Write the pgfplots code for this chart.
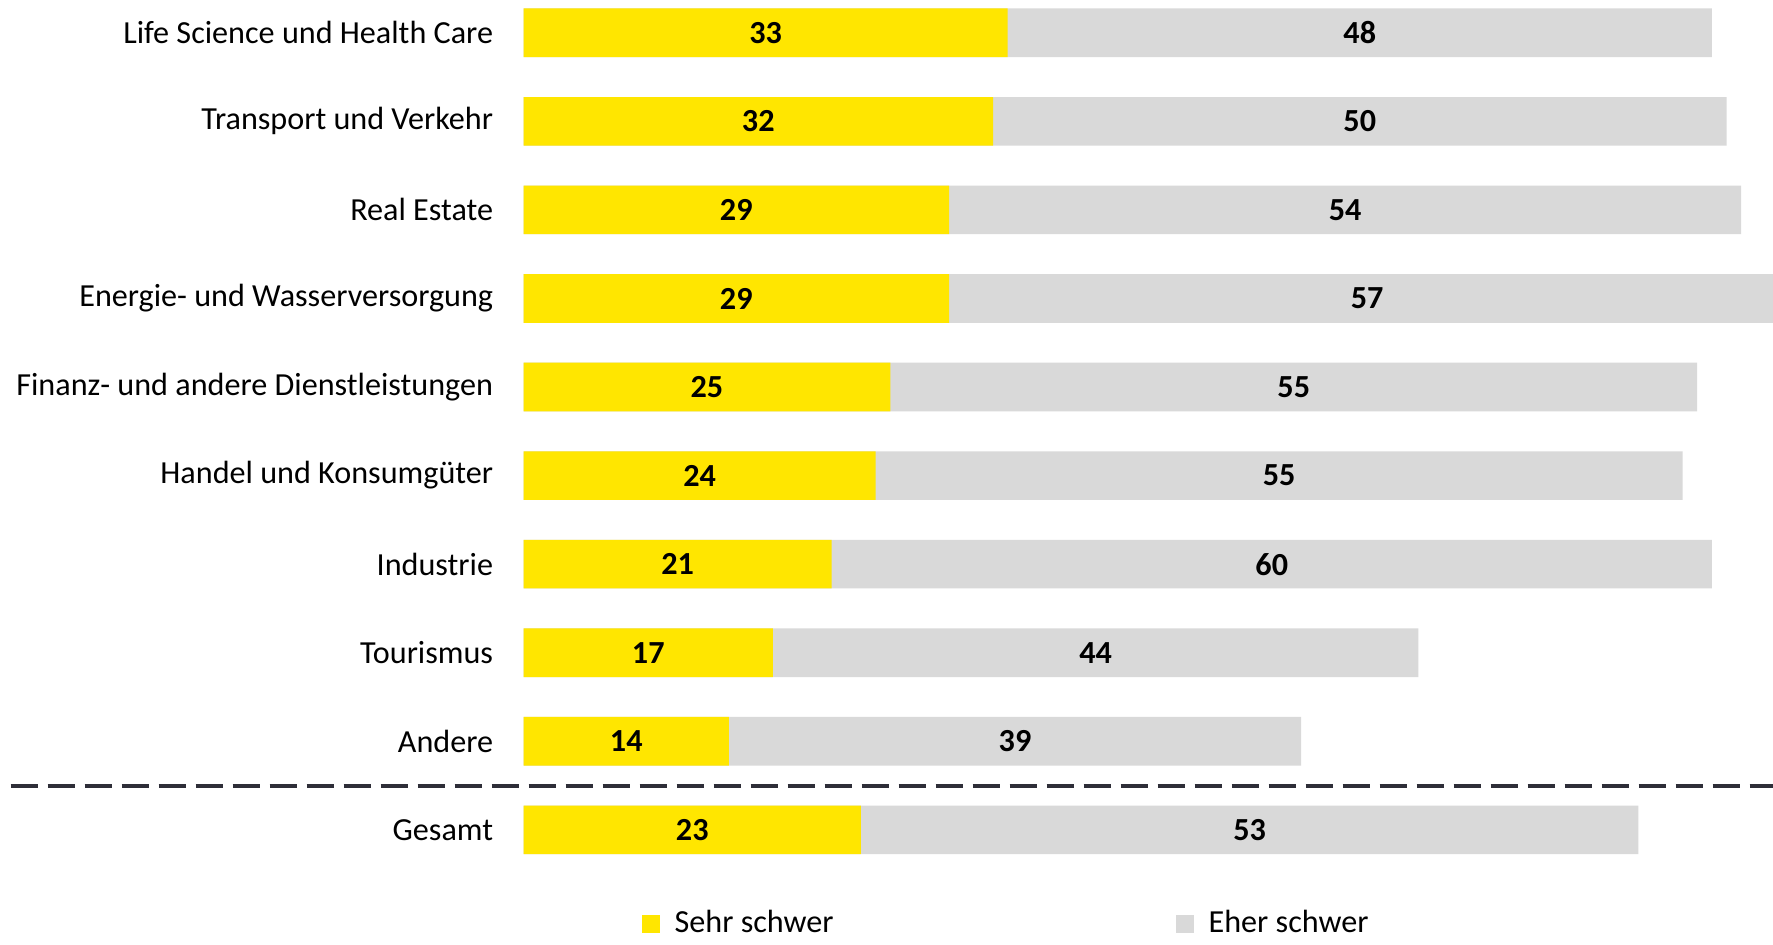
\documentclass[border=0pt]{standalone}
\usepackage{pgfplots}
\pgfplotsset{compat=1.18}
\usepackage{fontspec}
\setmainfont{Carlito}
\definecolor{eyyellow}{HTML}{FFE600}
\definecolor{eygrey}{HTML}{D9D9D9}
\definecolor{eydark}{HTML}{2E2E38}
\begin{document}
\begin{tikzpicture}
\begin{axis}[
	width=177.3mm, height=93.7mm, scale only axis,
	xmin=-35.69, xmax=85.17,
	ymin=-1.21, ymax=9.37,
	axis line style={draw=none},
	xtick=\empty, ytick=\empty,
	axis background/.style={fill=white},
	font=\fontsize{9.15}{11}\selectfont,
	legend columns=2,
	legend style={at={(axis description cs:0.3615,0.0139)}, anchor=west,
		draw=none, fill=none, inner sep=0pt,
		font=\fontsize{9.15}{11}\selectfont,
		/tikz/every odd column/.append style={column sep=0.8mm},
		/tikz/every even column/.append style={column sep=33.5mm}},
	legend image code/.code={\fill (0mm,-0.9mm) rectangle (1.8mm,0.9mm);},
]
% totals (grey) drawn first, yellow on top
\addplot[xbar, bar width=4.86mm, bar shift=0pt, fill=eygrey, draw=none, forget plot]
	coordinates {(81,9) (82,8) (83,7) (86,6) (80,5) (79,4) (81,3) (61,2) (53,1) (76,0)};
\addplot[xbar, bar width=4.86mm, bar shift=0pt, fill=eyyellow, draw=none, forget plot]
	coordinates {(33,9) (32,8) (29,7) (29,6) (25,5) (24,4) (21,3) (17,2) (14,1) (23,0)};
% separator
\addplot[draw=eydark, line width=0.4mm, dash pattern=on 2.7mm off 1mm, forget plot]
	coordinates {(-34.96,0.5) (86,0.5)};
% value labels
\addplot[draw=none, mark=none, forget plot, nodes near coords, point meta=explicit symbolic,
	every node near coord/.append style={anchor=center, font=\fontsize{9.15}{11}\selectfont\bfseries}]
	coordinates {(16.5,9)[33] (16,8)[32] (14.5,7)[29] (14.5,6)[29] (12.5,5)[25]
		(12,4)[24] (10.5,3)[21] (8.5,2)[17] (7,1)[14] (11.5,0)[23]
		(57,9)[48] (57,8)[50] (56,7)[54] (57.5,6)[57] (52.5,5)[55]
		(51.5,4)[55] (51,3)[60] (39,2)[44] (33.5,1)[39] (49.5,0)[53]};
% category labels
\addplot[draw=none, mark=none, forget plot, nodes near coords, point meta=explicit symbolic,
	every node near coord/.append style={anchor=east, inner sep=0pt}]
	coordinates {(-2.03,9)[Life Science und Health Care] (-2.03,8)[Transport und Verkehr]
		(-2.03,7)[Real Estate] (-2.03,6)[Energie- und Wasserversorgung]
		(-2.03,5)[Finanz- und andere Dienstleistungen] (-2.03,4)[Handel und Konsumgüter]
		(-2.03,3)[Industrie] (-2.03,2)[Tourismus] (-2.03,1)[Andere] (-2.03,0)[Gesamt]};
\addlegendimage{fill=eyyellow, draw=none}
\addlegendentry{Sehr schwer}
\addlegendimage{fill=eygrey, draw=none}
\addlegendentry{Eher schwer}
\end{axis}
\end{tikzpicture}
\end{document}
